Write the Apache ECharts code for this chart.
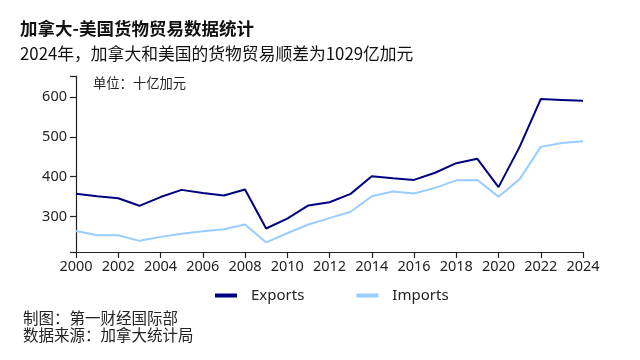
<!DOCTYPE html>
<html><head><meta charset="utf-8">
<script src="https://cdn.jsdelivr.net/npm/echarts@6/dist/echarts.min.js"></script>
<style>html,body{margin:0;padding:0;background:#fff}#c{width:640px;height:360px}</style>
</head><body><div id="c"></div>
<script>
const years = ['2000','2001','2002','2003','2004','2005','2006','2007','2008','2009','2010','2011','2012','2013','2014','2015','2016','2017','2018','2019','2020','2021','2022','2023','2024'];
const exportsData = [357,351,346,327,349,367,359,353,368,270,295,328,336,357,401,396,392,410,434,445,374,475,595,593,591];
const importsData = [264,253,253,239,249,257,263,268,280,235,258,280,296,312,351,363,358,372,391,392,350,394,475,485,489];
const yMin = 211, yMax = 653;
const yLabelValues = [300,400,500,600];
const titleText = '加拿大-美国货物贸易数据统计';
const subtitleText = '2024年，加拿大和美国的货物贸易顺差为1029亿加元';
const unitText = '单位：十亿加元';
const footer1 = '制图：第一财经国际部';
const footer2 = '数据来源：加拿大统计局';

const cjk = '"Noto Sans CJK SC","Liberation Sans",sans-serif';
const latin = '"Noto Sans","Noto Sans CJK SC",sans-serif';
const chart = echarts.init(document.getElementById('c'), null, {renderer:'canvas'});
chart.setOption({
  backgroundColor:'#fff',
  animation:false,
  grid:{left:76,right:57,top:76,bottom:108,containLabel:false},
  graphic:[
    {type:'text',style:{x:20,y:28,text:titleText,font:'bold 17.5px '+cjk,fill:'#111',verticalAlign:'middle'}},
    {type:'text',style:{x:20,y:54,text:subtitleText,font:'16.8px '+cjk,fill:'#111',verticalAlign:'middle'}},
    {type:'text',style:{x:93,y:83,text:unitText,font:'13.3px '+cjk,fill:'#222',verticalAlign:'middle'}},
    {type:'text',style:{x:23,y:318,text:footer1,font:'15.5px '+cjk,fill:'#222',verticalAlign:'middle'}},
    {type:'text',style:{x:23,y:335,text:footer2,font:'15.5px '+cjk,fill:'#222',verticalAlign:'middle'}}
  ],
  legend:{
    left:210, top:283, itemWidth:22, itemHeight:4, itemGap:52, icon:'rect',
    textStyle:{fontFamily:latin,fontSize:15,color:'#222',padding:[0,0,0,9]},
    data:['Exports','Imports']
  },
  xAxis:{
    type:'category', data:years, boundaryGap:false,
    axisLine:{lineStyle:{color:'#222',width:1.2}},
    axisTick:{show:true,interval:1,length:6,lineStyle:{color:'#222',width:1.2}},
    axisLabel:{interval:1,margin:8,fontFamily:latin,fontSize:14.5,color:'#222'},
    splitLine:{show:false}
  },
  yAxis:{
    type:'value', min:yMin, max:yMax,
    axisLine:{show:true,lineStyle:{color:'#222',width:1.2}},
    axisTick:{show:true,length:6,customValues:[yMin+0.5].concat(yLabelValues,[yMax-0.5]),lineStyle:{color:'#222',width:1.2}},
    axisLabel:{customValues:yLabelValues,margin:9,fontFamily:latin,fontSize:14.5,color:'#222'},
    splitLine:{show:false}
  },
  series:[
    {name:'Exports',type:'line',data:exportsData,symbol:'none',lineStyle:{color:'#000080',width:2},itemStyle:{color:'#000080'}},
    {name:'Imports',type:'line',data:importsData,symbol:'none',lineStyle:{color:'#99ccff',width:2},itemStyle:{color:'#99ccff'}}
  ]
});
</script></body></html>
